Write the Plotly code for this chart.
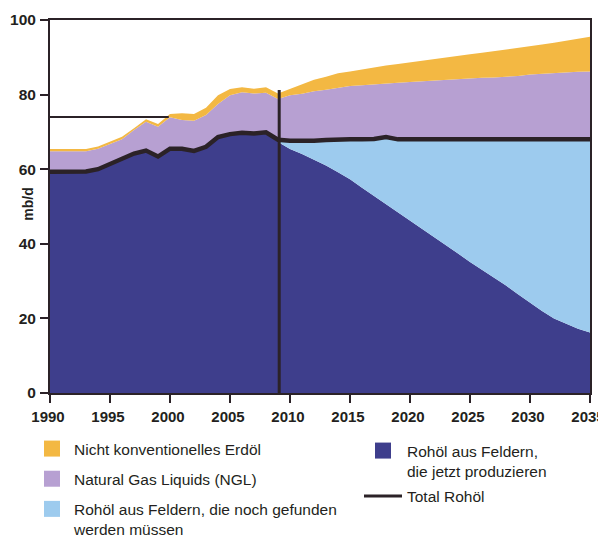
import plotly.graph_objects as go

years = list(range(1990, 2036))

# Crude oil from fields currently producing (top edge of dark blue area)
current_fields = [59.3, 59.3, 59.3, 59.4, 60.0, 61.5, 63.0, 64.2, 65.0, 63.4,
                  65.5, 65.5, 64.9, 66.0, 68.6, 69.4, 69.8, 69.6, 69.9, 67.3,
                  65.4, 64.1, 62.6, 61.0, 59.2, 57.3, 55.0, 52.8, 50.6, 48.4,
                  46.2, 44.0, 42.0, 39.7, 37.4, 35.1, 33.0, 31.0, 28.8, 26.5,
                  24.2, 22.0, 20.0, 18.5, 17.2, 16.2]

# Total crude oil (incl. fields yet to be found)
total_crude = [59.3, 59.3, 59.3, 59.4, 60.0, 61.5, 63.0, 64.2, 65.0, 63.4,
               65.5, 65.5, 64.9, 66.0, 68.6, 69.4, 69.8, 69.6, 69.9, 67.9,
               67.6, 67.5, 67.6, 67.8, 68.0, 68.0, 68.0, 68.1, 68.6, 68.0,
               68.0, 68.0, 68.0, 68.0, 68.0, 68.0, 68.0, 68.0, 68.0, 68.0,
               68.0, 68.0, 68.0, 68.0, 68.0, 68.0]

# Crude + natural gas liquids (top edge of purple area)
crude_plus_ngl = [64.8, 64.8, 64.8, 64.8, 65.5, 66.8, 68.0, 70.5, 72.7, 71.4,
                  73.9, 73.2, 73.0, 74.5, 77.5, 79.8, 80.6, 80.3, 80.5, 78.8,
                  79.8, 80.2, 80.9, 81.3, 81.9, 82.3, 82.5, 82.8, 83.0, 83.2,
                  83.4, 83.6, 83.7, 83.9, 84.1, 84.3, 84.5, 84.6, 84.8, 85.0,
                  85.4, 85.6, 85.8, 86.0, 86.1, 86.2]

# Total incl. unconventional oil (top edge of yellow area)
total_liquids = [65.4, 65.4, 65.4, 65.4, 66.1, 67.4, 68.7, 71.0, 73.4, 72.1,
                 74.8, 75.0, 74.8, 76.5, 79.8, 81.5, 82.0, 81.6, 82.0, 80.3,
                 81.6, 82.8, 84.0, 84.8, 85.7, 86.2, 86.8, 87.3, 87.8, 88.2,
                 88.6, 89.1, 89.5, 89.9, 90.4, 90.8, 91.2, 91.6, 92.0, 92.4,
                 92.9, 93.4, 93.9, 94.5, 95.0, 95.5]

ref_line_years = [1990, 1999.9]
ref_line_values = [74.0, 74.0]
divider_years = [2009.1, 2009.1]
divider_values = [0, 81.2]

x_ticks = [1990, 1995, 2000, 2005, 2010, 2015, 2020, 2025, 2030, 2035]
y_ticks = [0, 20, 40, 60, 80, 100]

C_YELLOW = "#f3b843"
C_PURPLE = "#b7a0d2"
C_LBLUE = "#9dcbee"
C_DBLUE = "#3e3e8c"
C_LINE = "#2b2227"
FONT = "Liberation Sans, Arial, Helvetica, sans-serif"
TXT = "#231f20"

fig = go.Figure()

fig.add_trace(go.Scatter(x=years, y=current_fields, mode="lines", line=dict(width=0),
                         fill="tozeroy", fillcolor=C_DBLUE, showlegend=False, hoverinfo="skip"))
fig.add_trace(go.Scatter(x=years, y=total_crude, mode="lines", line=dict(width=0),
                         fill="tonexty", fillcolor=C_LBLUE, showlegend=False, hoverinfo="skip"))
fig.add_trace(go.Scatter(x=years, y=crude_plus_ngl, mode="lines", line=dict(width=0),
                         fill="tonexty", fillcolor=C_PURPLE, showlegend=False, hoverinfo="skip"))
fig.add_trace(go.Scatter(x=years, y=total_liquids, mode="lines", line=dict(width=0),
                         fill="tonexty", fillcolor=C_YELLOW, showlegend=False, hoverinfo="skip"))
fig.add_trace(go.Scatter(x=years, y=total_crude, mode="lines",
                         line=dict(color=C_LINE, width=4.5), showlegend=False))
fig.add_trace(go.Scatter(x=ref_line_years, y=ref_line_values, mode="lines",
                         line=dict(color=C_LINE, width=2), showlegend=False))
fig.add_trace(go.Scatter(x=divider_years, y=divider_values, mode="lines",
                         line=dict(color=C_LINE, width=3), showlegend=False))

# legend entries
def sq(name, color, legend, group):
    fig.add_trace(go.Scatter(x=[1990], y=[-50], mode="markers", name=name,
                             marker=dict(symbol="square", size=16, color=color),
                             legend=legend, legendgroup=group, hoverinfo="skip"))

sq("Nicht konventionelles Erdöl", C_YELLOW, "legend", "a")
sq("Natural Gas Liquids (NGL)", C_PURPLE, "legend", "b")
sq("Rohöl aus Feldern, die noch gefunden<br>werden müssen", C_LBLUE, "legend", "c")
sq("Rohöl aus Feldern,<br>die jetzt produzieren", C_DBLUE, "legend2", "d")
fig.add_trace(go.Scatter(x=[1990, 1990], y=[-50, -50], mode="lines", name="Total Rohöl",
                         line=dict(color=C_LINE, width=3), legend="legend2", legendgroup="e",
                         hoverinfo="skip"))

legend_common = dict(xref="container", yref="container", xanchor="left", yanchor="top",
                     font=dict(family=FONT, size=15.5, color=TXT), bgcolor="rgba(0,0,0,0)",
                     traceorder="grouped", valign="top", itemclick=False)

fig.update_layout(
    width=606, height=538,
    margin=dict(l=42, r=24, t=12, b=153, autoexpand=False),
    paper_bgcolor="white", plot_bgcolor="white",
    font=dict(family=FONT, color=TXT),
    legend=dict(x=22 / 606, y=1 - 424 / 538, tracegroupgap=7, itemwidth=34, **legend_common),
    legend2=dict(x=351 / 606, y=1 - 426 / 538, tracegroupgap=2, itemwidth=38, **legend_common),
    xaxis=dict(type="linear", range=[1990, 2035], tickvals=x_ticks, ticks="outside",
               ticklen=8, tickwidth=2, ticklabelstandoff=1, ticklabelshift=-2,
               tickcolor=C_LINE, showline=True, linecolor=C_LINE, linewidth=2, mirror=True,
               showgrid=False, zeroline=False,
               tickfont=dict(family=FONT, size=15, color=TXT, weight="bold")),
    yaxis=dict(type="linear", range=[0, 100], tickvals=y_ticks, ticks="outside",
               ticklen=8, tickwidth=2, ticklabelstandoff=1,
               tickcolor=C_LINE, showline=True, linecolor=C_LINE, linewidth=2, mirror=True,
               showgrid=False, zeroline=False,
               tickfont=dict(family=FONT, size=15.5, color=TXT, weight="bold")),
    annotations=[dict(text="mb/d", xref="paper", yref="y", x=0, y=50.5, xshift=-22,
                      xanchor="center", yanchor="middle", textangle=-90, showarrow=False,
                      font=dict(family=FONT, size=14, color=TXT, weight="bold"))],
)

fig.write_html("out.html")
